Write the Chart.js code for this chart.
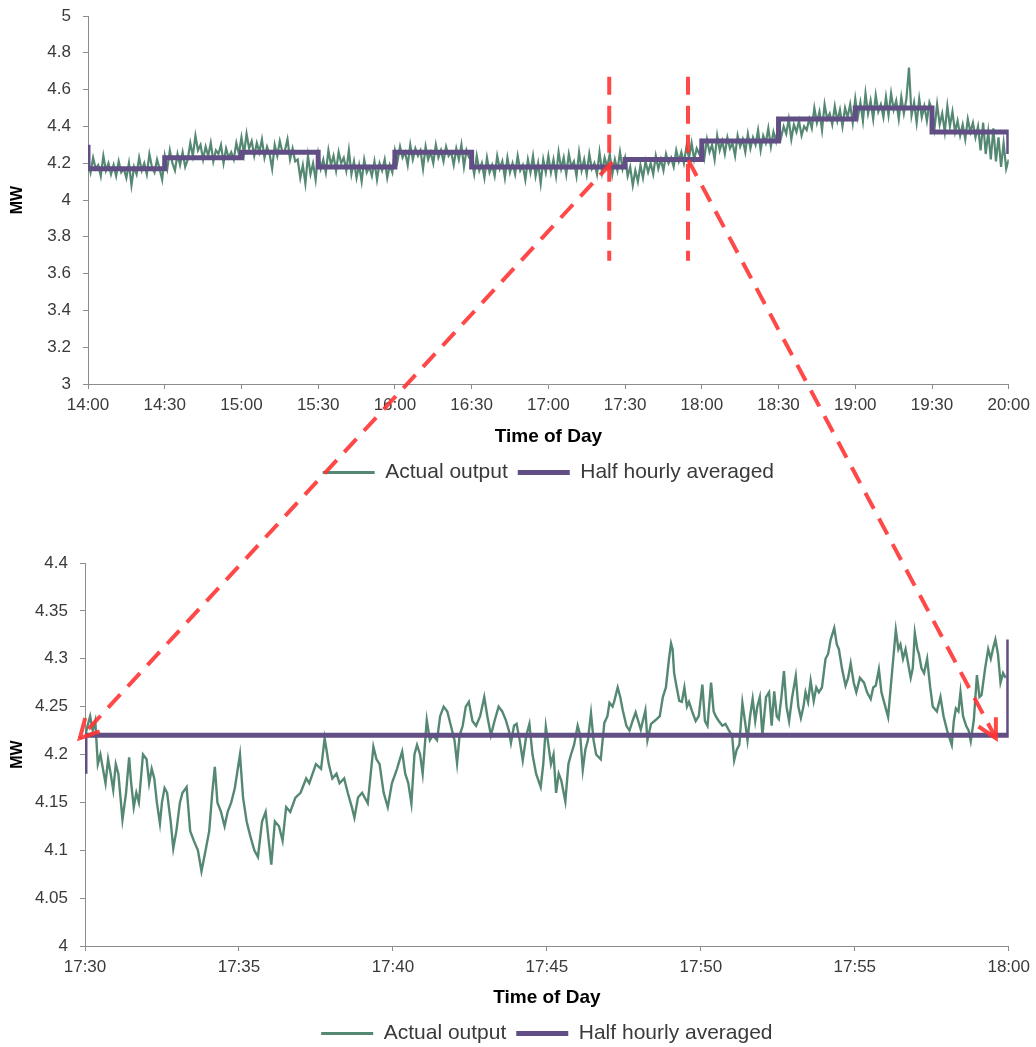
<!DOCTYPE html>
<html><head><meta charset="utf-8">
<script src="https://cdn.jsdelivr.net/npm/chart.js@4.4.1/dist/chart.umd.min.js"></script>
<style>
html,body{margin:0;padding:0;background:#fff;overflow:hidden;width:1036px;height:1047px;}
#wrapA{position:absolute;left:0;top:0;width:1036px;height:493px;}
#wrapB{position:absolute;left:0;top:493px;width:1036px;height:561px;}
#overlay{position:absolute;left:0;top:0;pointer-events:none;z-index:5;}
</style></head><body>
<div id="wrapA"><canvas id="chartA" width="1036" height="493"></canvas></div>
<div id="wrapB"><canvas id="chartB" width="1036" height="561"></canvas></div>
<canvas id="overlay" width="1036" height="1047"></canvas>
<script>
// ---------- DATA ----------
// Top chart: actual output, one reading per minute from 14:00 to 20:00 (MW)
const topStart = '14:00';
const topMW = [
 4.21,4.15,4.23,4.17,4.19,4.13,4.24,4.16,4.20,4.14,
 4.19,4.13,4.21,4.15,4.17,4.12,4.20,4.08,4.18,4.14,
 4.23,4.16,4.20,4.14,4.25,4.18,4.15,4.22,4.17,4.11,
 4.24,4.17,4.27,4.20,4.16,4.25,4.19,4.26,4.18,4.22,
 4.31,4.24,4.35,4.27,4.30,
 4.22,4.29,4.24,4.31,4.21,4.27,4.25,4.30,4.20,4.28,4.23,4.26,4.22,4.31,4.25,
 4.34,4.25,4.36,4.28,4.32,4.24,
 4.31,4.26,4.33,4.23,4.29,4.25,4.17,4.30,4.24,4.32,4.26,
 4.27,4.33,4.22,4.28,4.21,
 4.22,4.12,4.19,4.09,4.24,4.14,4.20,4.11,
 4.25,4.17,4.22,4.15,4.27,4.19,4.24,4.16,4.26,4.20,4.23,4.16,4.27,
 4.14,4.21,4.12,4.19,4.10,4.22,4.15,4.18,4.13,4.21,4.11,4.20,4.16,4.22,4.12,4.19,4.15,
 4.27,4.21,4.29,4.23,4.26,4.19,4.30,4.22,4.28,4.24,4.27,4.17,4.29,4.22,4.26,4.20,4.30,4.23,4.27,4.21,4.29,4.24,4.26,4.19,4.28,4.22,4.30,4.18,4.27,4.23,
 4.22,4.14,4.24,4.16,4.20,4.12,4.23,4.15,4.19,4.13,4.24,4.17,4.21,4.12,4.23,4.15,4.20,4.14,4.24,4.16,4.19,4.11,4.22,4.15,4.24,4.13,4.20,4.09,4.22,4.15,
 4.24,4.15,4.22,4.13,4.26,4.17,4.23,4.14,4.25,4.18,4.21,4.13,4.26,4.16,4.22,4.14,4.25,4.17,4.20,4.14,4.26,4.15,4.23,4.18,4.25,4.14,4.22,4.16,4.26,4.17,
 4.23,4.13,4.18,4.08,4.16,4.10,4.19,
 4.12,4.21,4.15,4.20,4.14,4.24,4.17,4.22,4.16,4.25,4.20,4.23,4.18,4.27,4.21,4.26,4.20,4.29,4.23,4.31,4.22,4.28,4.25,
 4.31,4.23,4.33,4.26,4.30,4.22,4.35,4.27,4.32,4.25,4.34,4.28,4.31,4.24,4.35,4.29,4.33,4.26,4.36,4.28,4.34,4.30,4.38,4.27,4.35,4.31,4.39,4.29,4.37,4.32,
 4.42,4.34,4.40,4.36,4.44,4.33,4.41,4.37,4.43,4.35,4.40,4.38,4.44,
 4.39,4.50,4.42,4.48,4.38,4.52,4.44,4.47,4.41,4.51,4.43,4.49,4.40,4.50,4.45,4.52,4.42,
 4.55,4.45,4.53,4.43,4.58,4.47,4.54,4.44,4.57,4.48,4.52,4.45,4.56,4.46,4.58,4.49,4.54,4.44,4.56,4.47,4.55,4.72,
 4.46,4.53,4.42,4.55,4.45,4.51,4.43,4.53,
 4.49,4.39,4.52,4.41,4.47,4.37,4.51,4.40,4.48,4.37,
 4.43,4.35,4.41,4.33,4.44,4.37,4.42,4.34,
 4.40,4.27,4.42,4.25,4.37,4.22,4.39,4.21,4.34,4.18,4.31,4.17,4.22
];
// Half-hourly averages: level before the first boundary, each half hour, level after the last boundary
const topAvgBoundaries = ['14:00','14:30','15:00','15:30','16:00','16:30','17:00','17:30','18:00','18:30','19:00','19:30','20:00'];
const topAvgLevels = [4.30,4.17,4.23,4.26,4.18,4.26,4.18,4.18,4.22,4.32,4.44,4.50,4.37,4.25];

// Bottom chart: actual output 17:30-18:00, [seconds after 17:30, MW]
const zoomStart = '17:30';
const zoomSamples = [
[0,4.218],[5,4.23],[10,4.24],[15,4.225],[20,4.235],[25,4.19],[30,4.2],[35,4.185],[40,4.17],[45,4.195],[50,4.18],[55,4.163],[60,4.19],[65,4.18],[70,4.15],[73,4.132],[80,4.16],[86,4.197],[90,4.17],[95,4.145],[100,4.16],[105,4.15],[113,4.2],[120,4.195],[125,4.17],[130,4.185],[135,4.175],[140,4.15],[146,4.128],[150,4.15],[155,4.165],[160,4.16],[167,4.13],[172,4.102],[178,4.12],[185,4.15],[190,4.16],[198,4.166],[205,4.12],[212,4.11],[220,4.1],[227,4.078],[235,4.1],[242,4.12],[248,4.16],[253,4.187],[258,4.15],[265,4.14],[272,4.125],[278,4.14],[285,4.15],[292,4.165],[302,4.2],[308,4.155],[315,4.13],[322,4.115],[330,4.1],[337,4.093],[345,4.13],[352,4.14],[363,4.085],[370,4.13],[378,4.125],[385,4.11],[392,4.145],[400,4.14],[410,4.155],[420,4.16],[431,4.175],[437,4.17],[450,4.19],[460,4.185],[467,4.217],[475,4.19],[482,4.175],[490,4.18],[496,4.17],[505,4.175],[512,4.16],[520,4.145],[525,4.134],[532,4.155],[540,4.16],[551,4.149],[562,4.208],[568,4.195],[574,4.19],[582,4.16],[590,4.145],[598,4.17],[608,4.185],[618,4.203],[624,4.18],[630,4.17],[636,4.149],[642,4.2],[647,4.21],[653,4.2],[658,4.18],[666,4.236],[672,4.215],[678,4.22],[686,4.215],[692,4.24],[699,4.25],[706,4.245],[713,4.23],[720,4.215],[725,4.191],[730,4.22],[736,4.23],[742,4.25],[748,4.255],[755,4.235],[762,4.23],[770,4.24],[778,4.26],[784,4.24],[791,4.22],[798,4.235],[806,4.25],[813,4.245],[820,4.236],[826,4.225],[830,4.212],[836,4.23],[841,4.232],[847,4.215],[853,4.194],[860,4.22],[866,4.232],[872,4.2],[879,4.18],[888,4.166],[893,4.19],[898,4.229],[903,4.21],[908,4.19],[913,4.2],[918,4.16],[923,4.18],[928,4.173],[936,4.151],[942,4.19],[947,4.2],[953,4.21],[960,4.23],[965,4.22],[970,4.184],[975,4.205],[980,4.215],[986,4.243],[991,4.215],[996,4.2],[1005,4.195],[1012,4.233],[1018,4.24],[1022,4.254],[1028,4.25],[1031,4.255],[1038,4.27],[1043,4.26],[1048,4.246],[1055,4.23],[1061,4.225],[1067,4.235],[1073,4.244],[1078,4.235],[1083,4.226],[1092,4.246],[1096,4.215],[1103,4.232],[1112,4.236],[1120,4.24],[1126,4.26],[1132,4.27],[1138,4.3],[1142,4.316],[1145,4.31],[1148,4.285],[1153,4.27],[1158,4.256],[1163,4.255],[1168,4.27],[1173,4.25],[1177,4.255],[1183,4.245],[1190,4.235],[1196,4.24],[1203,4.273],[1208,4.235],[1213,4.23],[1220,4.275],[1225,4.245],[1229,4.24],[1235,4.235],[1242,4.23],[1248,4.232],[1255,4.225],[1261,4.22],[1265,4.194],[1270,4.205],[1275,4.21],[1281,4.254],[1286,4.235],[1291,4.215],[1296,4.24],[1301,4.258],[1306,4.235],[1310,4.25],[1315,4.26],[1320,4.22],[1327,4.26],[1333,4.265],[1338,4.23],[1343,4.266],[1348,4.24],[1352,4.237],[1357,4.26],[1362,4.287],[1367,4.25],[1372,4.235],[1378,4.26],[1385,4.282],[1390,4.25],[1395,4.238],[1400,4.25],[1404,4.265],[1409,4.255],[1414,4.277],[1420,4.256],[1425,4.27],[1430,4.265],[1436,4.27],[1443,4.3],[1448,4.305],[1453,4.32],[1460,4.332],[1465,4.315],[1469,4.31],[1475,4.29],[1482,4.272],[1487,4.28],[1492,4.295],[1498,4.275],[1503,4.265],[1510,4.28],[1518,4.275],[1524,4.265],[1531,4.258],[1536,4.27],[1541,4.272],[1547,4.289],[1552,4.265],[1557,4.255],[1565,4.239],[1570,4.27],[1575,4.3],[1580,4.33],[1585,4.31],[1589,4.315],[1594,4.3],[1599,4.31],[1604,4.295],[1609,4.28],[1613,4.29],[1617,4.327],[1622,4.31],[1625,4.305],[1630,4.29],[1635,4.285],[1641,4.3],[1647,4.27],[1652,4.25],[1660,4.245],[1667,4.26],[1673,4.24],[1680,4.225],[1689,4.21],[1693,4.235],[1697,4.248],[1702,4.245],[1706,4.265],[1711,4.24],[1717,4.23],[1722,4.225],[1726,4.214],[1732,4.236],[1738,4.283],[1743,4.26],[1747,4.262],[1754,4.29],[1760,4.31],[1765,4.3],[1770,4.312],[1774,4.32],[1779,4.305],[1784,4.275],[1789,4.285],[1794,4.28]
];
const zoomAvgBoundaries = ['17:30','18:00'];
const zoomAvgLevels = [4.18,4.22,4.32];

// Axis ranges and tick labels
const topXRange = ['14:00','20:00'], topXStepMin = 30, topYRange = [3,5], topYStep = 0.2;
const zoomXRange = ['17:30','18:00'], zoomXStepMin = 5, zoomYRange = [4,4.4], zoomYStep = 0.05;
const seriesNames = ['Actual output','Half hourly averaged'];
const xTitle = 'Time of Day', yTitle = 'MW';

// Hand-drawn zoom guides (top chart coordinates -> bottom chart coordinates)
const guideTimes = ['17:23:48','17:54:36'];
const guideMW = [3.67,4.67];
const arrowStarts = [['17:25:00',4.207],['17:54:42',4.217]];
const arrowEnds = [['17:29:50',4.217],['17:59:35',4.217]];

// ---------- BUILD ----------
const FONT = "'Liberation Sans', Arial, Helvetica, sans-serif";
const GREEN = '#558872', PURPLE = '#604e84', AXIS = '#8c8c8c', TXT = '#3a3a3a';
function toMin(s){ const p = s.split(':').map(Number); return p[0]*60 + p[1] + (p[2]||0)/60; }
function fmt(v){ const h = Math.floor(v/60 + 1e-9); const m = Math.round(v - h*60); return h + ':' + String(m).padStart(2,'0'); }
function stepPoints(bounds, levels){
  const pts = [];
  bounds.forEach((b,i)=>{ const x = toMin(b); pts.push({x, y: levels[i]}, {x, y: levels[i+1]}); });
  return pts;
}
const t0 = toMin(topStart);
const topPts = topMW.map((v,i)=>({x: t0 + i, y: v}));
const z0 = toMin(zoomStart);
const zoomPts = zoomSamples.map(([s,v])=>({x: z0 + s/60, y: v}));

function makeChart(canvas, cfg){
  return new Chart(canvas, {
    type: 'line',
    data: { datasets: [
      { label: seriesNames[0], data: cfg.green, borderColor: GREEN, backgroundColor: GREEN, borderWidth: cfg.greenWidth, pointRadius: 0, tension: 0, order: 2 },
      { label: seriesNames[1], data: cfg.avg, borderColor: PURPLE, backgroundColor: PURPLE, borderWidth: 5, pointRadius: 0, tension: 0, order: 1 }
    ]},
    options: {
      responsive: false, animation: false, events: [],
      layout: { padding: { left: 0, right: 26, top: cfg.padTop, bottom: 0 } },
      plugins: {
        tooltip: { enabled: false },
        legend: {
          position: 'bottom', fullSize: false,
          labels: {
            usePointStyle: true, pointStyle: 'line', pointStyleWidth: 52, boxHeight: 10, padding: 10,
            color: TXT, font: { family: FONT, size: 21 },
            sort: (a,b) => a.datasetIndex - b.datasetIndex,
            generateLabels: (chart) => Chart.defaults.plugins.legend.labels.generateLabels(chart)
              .map(l => Object.assign(l, { lineWidth: l.datasetIndex === 0 ? 3 : 5 }))
          }
        }
      },
      scales: {
        x: {
          type: 'linear', min: toMin(cfg.xRange[0]), max: toMin(cfg.xRange[1]),
          ticks: { stepSize: cfg.xStep, callback: fmt, color: TXT, font: { family: FONT, size: 17 }, padding: 6, maxRotation: 0, autoSkip: false },
          grid: { display: true, drawOnChartArea: false, drawTicks: true, tickLength: 5, color: AXIS },
          border: { display: true, color: AXIS, width: 1 },
          title: { display: true, text: xTitle, color: '#000', font: { family: FONT, size: 19, weight: 'bold' }, padding: { top: 0, bottom: 4 } },
          afterFit: s => { s.height = cfg.xHeight; }
        },
        y: {
          min: cfg.yRange[0], max: cfg.yRange[1],
          ticks: { stepSize: cfg.yStep, callback: v => String(Math.round(v*1000)/1000), color: TXT, font: { family: FONT, size: 17 }, padding: 12, autoSkip: false },
          grid: { display: true, drawOnChartArea: false, drawTicks: true, tickLength: 5, color: AXIS },
          border: { display: true, color: AXIS, width: 1 },
          title: { display: true, text: yTitle, color: '#000', font: { family: FONT, size: 16, weight: 'bold' }, padding: { top: 8, bottom: 0 } },
          afterFit: s => { s.width = cfg.yWidth; s.paddingTop = 10; s.paddingBottom = 10; }
        }
      }
    }
  });
}

const chartA = makeChart(document.getElementById('chartA'), {
  green: topPts, avg: stepPoints(topAvgBoundaries, topAvgLevels), greenWidth: 2.2,
  xRange: topXRange, xStep: topXStepMin, yRange: topYRange, yStep: topYStep,
  padTop: 16, xHeight: 68, yWidth: 88
});
const chartB = makeChart(document.getElementById('chartB'), {
  green: zoomPts, avg: stepPoints(zoomAvgBoundaries, zoomAvgLevels), greenWidth: 2.4,
  xRange: zoomXRange, xStep: zoomXStepMin, yRange: zoomYRange, yStep: zoomYStep,
  padTop: 70, xHeight: 67, yWidth: 85
});

// ---------- OVERLAY (zoom guides, positioned through the charts' scales) ----------
(function drawOverlay(){
  const ctx = document.getElementById('overlay').getContext('2d');
  const offA = document.getElementById('wrapA').offsetTop;
  const offB = document.getElementById('wrapB').offsetTop;
  const pA = (t,v) => [chartA.scales.x.getPixelForValue(toMin(t)), chartA.scales.y.getPixelForValue(v) + offA];
  const pB = (t,v) => [chartB.scales.x.getPixelForValue(toMin(t)), chartB.scales.y.getPixelForValue(v) + offB];
  ctx.strokeStyle = 'rgba(255,52,52,0.9)';
  ctx.lineWidth = 4;
  ctx.lineCap = 'butt';
  ctx.setLineDash([18, 11]);
  guideTimes.forEach(t => {
    const a = pA(t, guideMW[1]), b = pA(t, guideMW[0]);
    ctx.beginPath(); ctx.moveTo(a[0], a[1]); ctx.lineTo(b[0], b[1]); ctx.stroke();
  });
  arrowStarts.forEach((s,i) => {
    const a = pA(s[0], s[1]), b = pB(arrowEnds[i][0], arrowEnds[i][1]);
    ctx.setLineDash([18, 11]);
    ctx.beginPath(); ctx.moveTo(a[0], a[1]); ctx.lineTo(b[0], b[1]); ctx.stroke();
    const ang = Math.atan2(a[1]-b[1], a[0]-b[0]);
    const L = 21, spread = 28*Math.PI/180;
    ctx.setLineDash([]);
    ctx.beginPath();
    ctx.moveTo(b[0] + L*Math.cos(ang-spread), b[1] + L*Math.sin(ang-spread));
    ctx.lineTo(b[0], b[1]);
    ctx.lineTo(b[0] + L*Math.cos(ang+spread), b[1] + L*Math.sin(ang+spread));
    ctx.stroke();
  });
})();
</script>
</body></html>
